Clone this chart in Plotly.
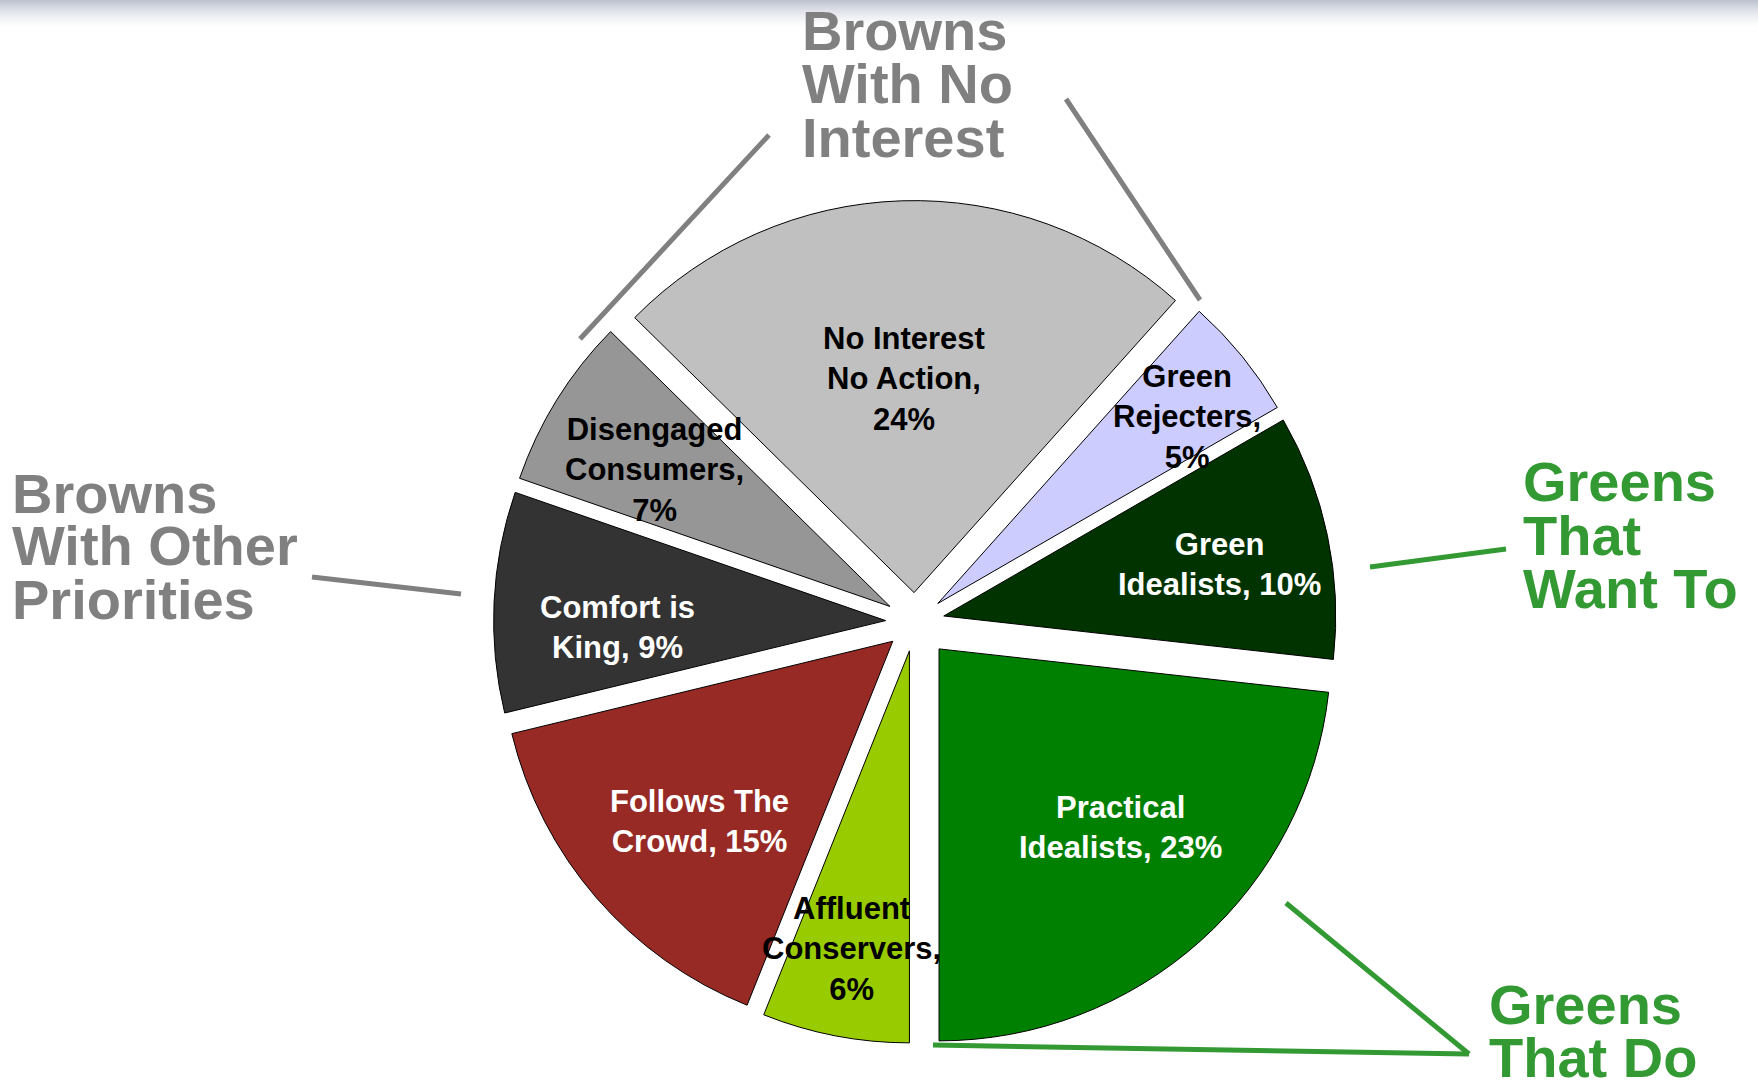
import math
import plotly.graph_objects as go

W, H = 1758, 1081

# ---- data ----
segments = ["Affluent Conservers", "Follows The Crowd", "Comfort is King",
            "Disengaged Consumers", "No Interest No Action", "Green Rejecters",
            "Green Idealists", "Practical Idealists"]
shares = [6, 15, 9, 7, 24, 5, 10, 23]
label_lines = [["Affluent", "Conservers,"], ["Follows The", "Crowd,"], ["Comfort is", "King,"],
               ["Disengaged", "Consumers,"], ["No Interest", "No Action,"], ["Green", "Rejecters,"],
               ["Green", "Idealists,"], ["Practical", "Idealists,"]]
pct_own_line = [True, False, False, True, True, True, False, False]

groups = [["Browns", "With No", "Interest"],
          ["Browns", "With Other", "Priorities"],
          ["Greens", "That", "Want To"],
          ["Greens", "That Do"]]

# ---- style ----
colors = ["#99CC00", "#982A25", "#333333", "#969696", "#C0C0C0", "#CCCCFF", "#003300", "#008000"]
text_colors = ["black", "white", "white", "black", "black", "black", "white", "white"]
pulls = [0.075, 0.075, 0.075, 0.075, 0.075, 0.075, 0.075, 0.092]
label_frac = [0.85, 0.75, 0.76, 0.77, 0.62, 0.87, 0.79, 0.74]
label_turn = [0.0, -1.9, -3.7, -1.5, -0.8, 2.1, 1.2, -3.2]
GRAY, GREEN = "#808080", "#339933"
group_style = [(GRAY, 800, 50), (GRAY, 10, 512), (GREEN, 1521, 501), (GREEN, 1487, 1023)]
leaders = [((580, 339), (769, 135), GRAY), ((1066, 99), (1200, 300), GRAY),
           ((312, 577), (461, 594), GRAY), ((1370, 567), (1506, 549), GREEN),
           ((1286, 903), (1469, 1054), GREEN), ((933, 1045), (1469, 1054), GREEN)]
FONT = "Arial, Liberation Sans, sans-serif"

cx, cy, r = 915, 622, 392
side = 2 * r * (1 + max(pulls))


def px(x):
    return x / W


def py(y):
    return 1 - y / H


fig = go.Figure(go.Pie(
    labels=segments, values=shares, sort=False, direction="clockwise", rotation=180,
    pull=pulls, marker=dict(colors=colors, line=dict(color="black", width=1)),
    textinfo="none", hoverinfo="label+percent", showlegend=False,
    domain=dict(x=[px(cx - side / 2), px(cx + side / 2)],
                y=[py(cy + side / 2), py(cy - side / 2)]),
))

annotations = []
total = sum(shares)
start = 180.0
for i, v in enumerate(shares):
    span = v / total * 360
    mid = math.radians(start + span / 2 + label_turn[i])
    start += span
    d = label_frac[i] * r
    x = cx + d * math.sin(mid)
    y = cy - d * math.cos(mid)
    lines = list(label_lines[i])
    if pct_own_line[i]:
        lines.append(f"{v}%")
    else:
        lines[-1] = lines[-1] + f" {v}%"
    annotations.append(dict(
        x=px(x), y=py(y), xref="paper", yref="paper", text="<br>".join(lines),
        showarrow=False, xanchor="center", yanchor="middle", align="center",
        font=dict(family=FONT, size=31, color=text_colors[i], weight="bold")))

for lines, (col, x0, base) in zip(groups, group_style):
    for k, t in enumerate(lines):
        yb = base + k * 53
        annotations.append(dict(
            x=px(x0), y=py(yb - 19), xref="paper", yref="paper", text=t,
            showarrow=False, xanchor="left", yanchor="middle", align="left",
            font=dict(family=FONT, size=56, color=col, weight="bold")))

shapes = []
# top gradient band
steps = 28
for k in range(steps):
    a = (1 - k / steps) ** 1.6
    shapes.append(dict(type="rect", xref="paper", yref="paper", x0=0, x1=1,
                       y0=py(k + 1), y1=py(k), line=dict(width=0),
                       fillcolor=f"rgba(190,194,208,{a:.3f})", layer="below"))
for (p0, p1, col) in leaders:
    shapes.append(dict(type="line", xref="paper", yref="paper",
                       x0=px(p0[0]), y0=py(p0[1]), x1=px(p1[0]), y1=py(p1[1]),
                       line=dict(color=col, width=5)))

fig.update_layout(width=W, height=H, margin=dict(l=0, r=0, t=0, b=0),
                  paper_bgcolor="white", plot_bgcolor="white",
                  annotations=annotations, shapes=shapes)
fig.write_html("out.html")
